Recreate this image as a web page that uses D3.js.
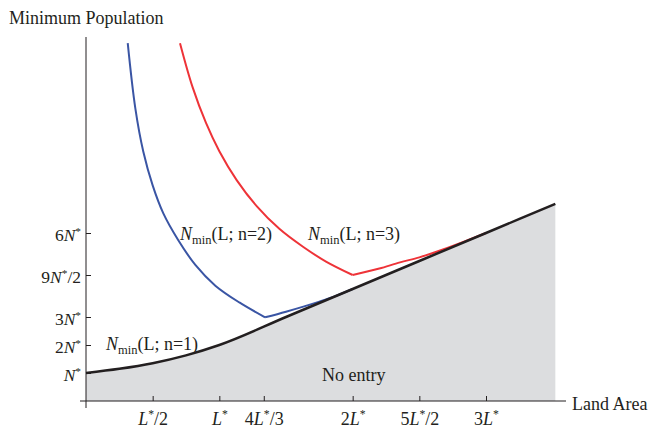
<!DOCTYPE html>
<html>
<head>
<meta charset="utf-8">
<script src="https://cdn.jsdelivr.net/npm/d3@7"></script>
<style>
  body { margin: 0; background: #fff; }
  text { font-family: "Liberation Serif", "Times New Roman", serif; fill: #231f20; }
</style>
</head>
<body>
<div id="svg-wrapper"></div>
<script>
// values, in units of L* and N*
const blackL = [0, 0.25, 0.5, 0.75, 1, 1.5, 2, 2.5, 3, 3.52];
const blackN = [1, 1.15, 1.35, 1.63, 2, 3, 4, 5, 6, 7.04];

const blueLeftL = [0.313, 0.37, 0.43, 0.5, 0.58, 0.69, 0.82, 0.97, 1.15, 1.343];
const blueLeftN = [12.78, 10.45, 8.9, 7.7, 6.7, 5.76, 4.86, 4.12, 3.52, 2.99];
const blueRightL = [1.343, 1.5, 1.63, 1.75, 1.855, 2.0];
const blueRightN = [2.99, 3.19, 3.37, 3.55, 3.72, 4.0];

const redLeftL = [0.705, 0.8, 0.9, 1.0, 1.13, 1.28, 1.45, 1.63, 1.8, 2.0];
const redLeftN = [12.78, 11.2, 9.93, 8.92, 7.89, 6.96, 6.15, 5.5, 4.98, 4.5];
const redRightL = [2.0, 2.2, 2.355, 2.5, 2.7, 2.83, 3.0];
const redRightN = [4.5, 4.73, 4.95, 5.13, 5.45, 5.68, 6.0];

// tick positions and labels: [prefix, variable, suffix]
const xTicks = [0.5, 1, 4 / 3, 2, 2.5, 3];
const xTickLabels = [["", "L", "/2"], ["", "L", ""], ["4", "L", "/3"], ["2", "L", ""], ["5", "L", "/2"], ["3", "L", ""]];
const yTicks = [1, 2, 3, 4.5, 6];
const yTickLabels = [["", "N", ""], ["2", "N", ""], ["3", "N", ""], ["9", "N", "/2"], ["6", "N", ""]];

const width = 649, height = 429;
const svg = d3.select("#svg-wrapper").append("svg")
  .attr("width", width).attr("height", height);

const x = d3.scaleLinear().domain([0, 3]).range([86, 486]);
const y = d3.scaleLinear().domain([0, 6]).range([401, 233]);

const zip = (ls, ns) => ls.map((l, i) => ({ l: l, n: ns[i] }));

// no entry region
const area = d3.area()
  .x((d) => x(d.l)).y0(y(0)).y1((d) => y(d.n))
  .curve(d3.curveMonotoneX);
svg.append("path")
  .datum(zip(blackL, blackN))
  .attr("d", area)
  .attr("fill", "#dcdddf");

// axes
const xAxis = d3.axisBottom(x).tickValues(xTicks).tickSizeInner(-5).tickSizeOuter(0).tickPadding(11);
const gx = svg.append("g").attr("transform", `translate(0, ${y(0)})`).call(xAxis);
gx.select(".domain").attr("d", `M${x(0) - 6},0H${x(3.6)}`);

const yAxis = d3.axisLeft(y).tickValues(yTicks).tickSizeInner(-5).tickSizeOuter(0).tickPadding(5);
const gy = svg.append("g").attr("transform", `translate(${x(0)}, 0)`).call(yAxis);
gy.select(".domain").attr("d", `M0,37V408`);

svg.selectAll(".domain, .tick line").attr("stroke", "#231f20").attr("stroke-width", 1);

// rich tick labels: italic variable with superscript star
function richLabel(sel, parts, size) {
  sel.text(null);
  sel.append("tspan").text(parts[0]);
  sel.append("tspan").attr("font-style", "italic").text(parts[1]);
  sel.append("tspan").attr("font-size", size * 0.65).attr("dy", -size * 0.35).text("*");
  sel.append("tspan").attr("dy", size * 0.35).text(parts[2]);
}
gx.selectAll(".tick text").each(function (d, i) {
  d3.select(this).attr("font-size", 18).attr("font-family", null);
  richLabel(d3.select(this), xTickLabels[i], 18);
});
gy.selectAll(".tick text").each(function (d, i) {
  d3.select(this).attr("font-size", 17.5).attr("font-family", null).attr("dy", "0.45em");
  richLabel(d3.select(this), yTickLabels[i], 17.5);
});

// curves
const smooth = d3.line().x((d) => x(d.l)).y((d) => y(d.n)).curve(d3.curveCatmullRom);
const mono = d3.line().x((d) => x(d.l)).y((d) => y(d.n)).curve(d3.curveMonotoneX);
const curves = [
  [blueLeftL, blueLeftN, "#3a55a4", 2, smooth],
  [blueRightL, blueRightN, "#3a55a4", 2, mono],
  [redLeftL, redLeftN, "#ee3338", 2, smooth],
  [redRightL, redRightN, "#ee3338", 2, mono],
  [blackL, blackN, "#231f20", 2.5, mono],
];
curves.forEach((c) => {
  svg.append("path")
    .datum(zip(c[0], c[1]))
    .attr("d", c[4])
    .attr("fill", "none")
    .attr("stroke", c[2])
    .attr("stroke-width", c[3]);
});

// curve labels
function nminLabel(px, py, n) {
  const t = svg.append("text").attr("x", px).attr("y", py).attr("font-size", 18);
  t.append("tspan").attr("font-style", "italic").text("N");
  t.append("tspan").attr("font-size", 12.5).attr("dy", 4).text("min");
  t.append("tspan").attr("dy", -4).text(`(L; n=${n})`);
}
nminLabel(106, 350, 1);
nminLabel(180, 240, 2);
nminLabel(308, 240, 3);

svg.append("text").attr("x", 322).attr("y", 381).attr("font-size", 18).text("No entry");

// axis titles
svg.append("text").attr("x", 9).attr("y", 24).attr("font-size", 18).text("Minimum Population");
svg.append("text").attr("x", 572).attr("y", 410).attr("font-size", 18).text("Land Area");
</script>
</body>
</html>
